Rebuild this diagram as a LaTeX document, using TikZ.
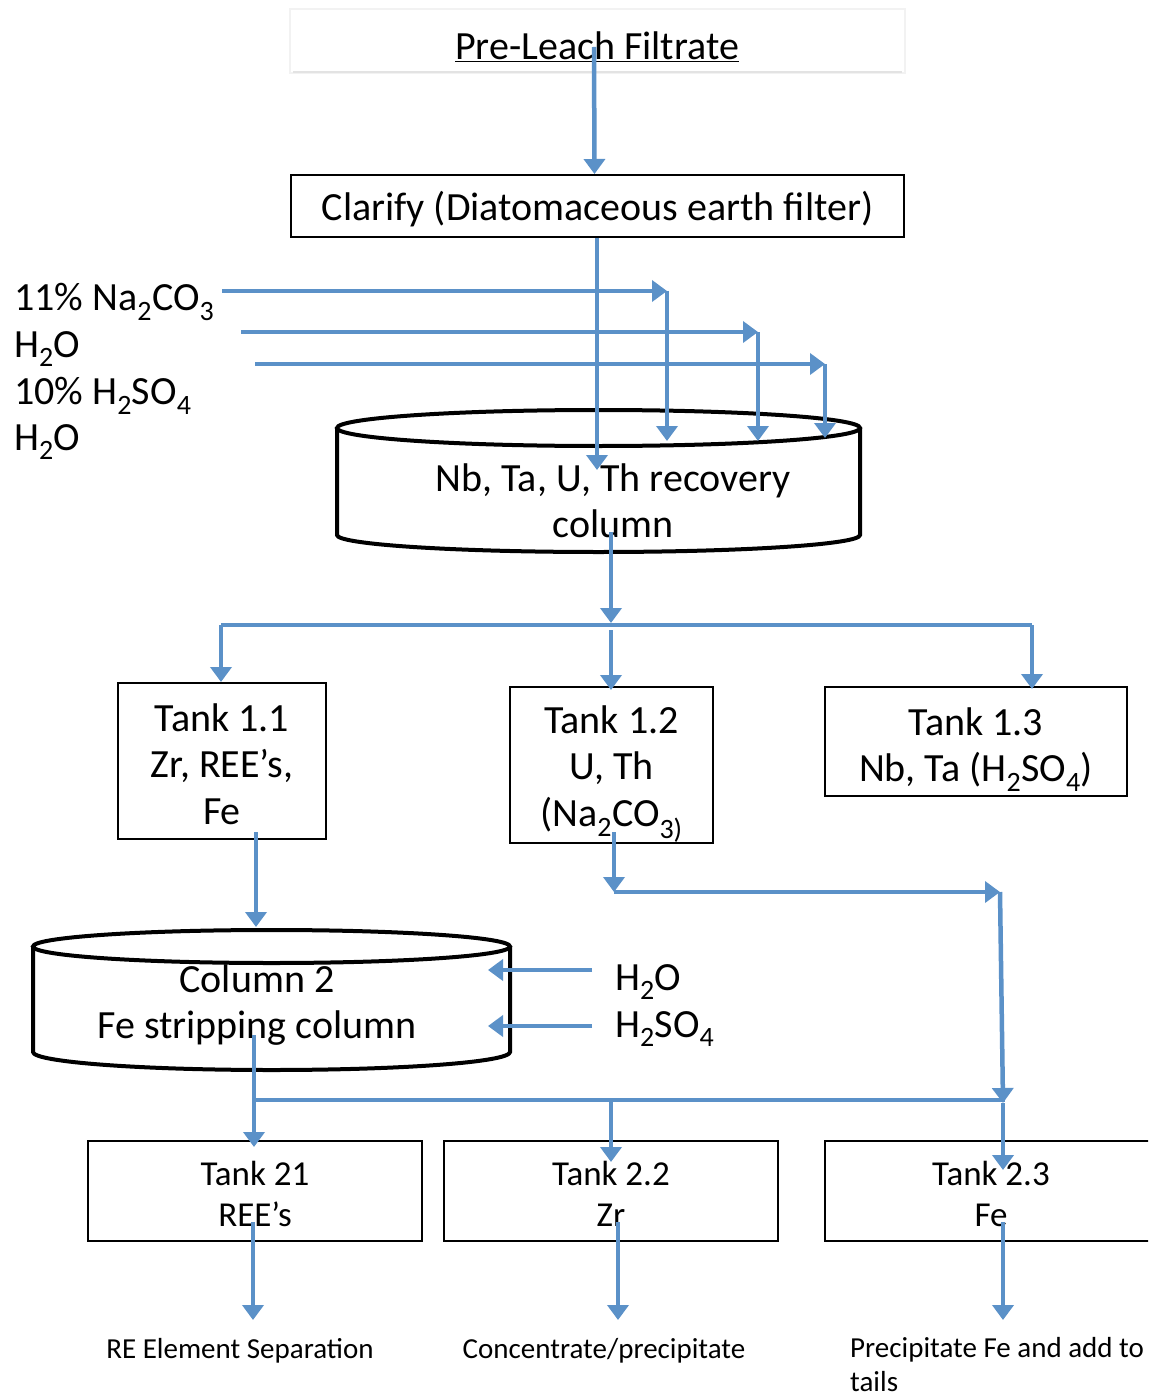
\documentclass[tikz,border=0pt]{standalone}
\usepackage{fontspec}
\setmainfont{Carlito}
\usetikzlibrary{arrows.meta, positioning, calc}
\definecolor{flowblue}{RGB}{91,145,200}
\newcommand{\bigtext}{\fontsize{40}{46.5}\selectfont}
\newcommand{\midtext}{\fontsize{35}{41}\selectfont}
\newcommand{\smalltext}{\fontsize{29}{34}\selectfont}

\begin{document}
\begin{tikzpicture}[x=1pt, y=-1pt, >={Triangle[width=21pt,length=15pt]},
  flow/.style={->, draw=flowblue, line width=4.5pt},
  flowline/.style={draw=flowblue, line width=4.5pt},
  tankbox/.style={draw, line width=2pt, inner sep=0pt, fill=white},
  colwall/.style={draw, line width=4pt, fill=white},
  txt/.style={inner sep=0pt, font=\bigtext, align=center}]
  \useasboundingbox (0,0) rectangle (1148,1396);
  \clip (0,0) rectangle (1148,1396);

  % Feed and clarifier
  \draw[gray!10, line width=1.5pt] (290,9) rectangle (905,73);
  \draw[gray!22, line width=1.5pt] (293,72) -- (902,72);
  \node[txt] (feed) at (597,47) {\underline{Pre-Leach Filtrate}};
  \node[tankbox, minimum width=613pt, minimum height=62pt,
    label={[txt, yshift=-3pt]center:{Clarify (Diatomaceous earth filter)}}] (clarify)
    at (597.5,206) {};

  % Column 1
  \draw[colwall] (337,428) -- (337,535)
    arc[start angle=180, end angle=0, x radius=261.5, y radius=17] -- (860,428);
  \draw[line width=4pt] (598.5,428) ellipse[x radius=261.5, y radius=18];
  \node[txt] (recov) at (613,501) {Nb, Ta, U, Th recovery\\column};

  % Reagents for column 1
  \node[txt, anchor=west] (soda) at (14,302) {11\% Na\textsubscript{2}CO\textsubscript{3}};
  \node[txt, anchor=west] (wash1) at (14,349) {H\textsubscript{2}O};
  \node[txt, anchor=west] (acid1) at (14,396) {10\% H\textsubscript{2}SO\textsubscript{4}};
  \node[txt, anchor=west] (wash2) at (14,442) {H\textsubscript{2}O};

  % First row of tanks
  \node[tankbox, minimum width=208pt, minimum height=156pt,
    label={[txt, yshift=-3pt]center:{Tank 1.1\\Zr, REE’s,\\Fe}}] (tank11)
    at (222,761) {};
  \node[tankbox, minimum width=203pt, minimum height=156pt,
    label={[txt, yshift=-9pt]center:{Tank 1.2\\U, Th\\(Na\textsubscript{2}CO\textsubscript{3)}}}] (tank12)
    at (611.5,765) {};
  \node[tankbox, minimum width=302pt, minimum height=109pt,
    label={[txt, yshift=-8pt]center:{Tank 1.3\\Nb, Ta (H\textsubscript{2}SO\textsubscript{4})}}] (tank13)
    at (976,741.5) {};

  % Column 2
  \draw[colwall] (33,946.5) -- (33,1052)
    arc[start angle=180, end angle=0, x radius=238.5, y radius=18] -- (510,946.5);
  \draw[line width=4pt] (271.5,946.5) ellipse[x radius=238.5, y radius=16.5];
  \node[txt] (strip) at (257,1005) {Column 2\\Fe stripping column};
  \node[txt, anchor=west] (wash3) at (615,982) {H\textsubscript{2}O};
  \node[txt, anchor=west] (acid2) at (615,1029) {H\textsubscript{2}SO\textsubscript{4}};

  % Second row of tanks
  \node[tankbox, minimum width=334pt, minimum height=100pt,
    label={[txt, font=\midtext, yshift=-3pt]center:{Tank 21\\REE’s}}] (tank21)
    at (255,1191) {};
  \node[tankbox, minimum width=334pt, minimum height=100pt,
    label={[txt, font=\midtext, yshift=-3pt]center:{Tank 2.2\\Zr}}] (tank22)
    at (611,1191) {};
  \node[tankbox, minimum width=332pt, minimum height=100pt,
    label={[txt, font=\midtext, yshift=-3pt]center:{Tank 2.3\\Fe}}] (tank23)
    at (991,1191) {};

  % Products
  \node[txt, font=\smalltext] (resep) at (240,1351) {RE Element Separation};
  \node[txt, font=\smalltext] (conc) at (604,1351) {Concentrate/precipitate};
  \node[txt, font=\smalltext, align=left, anchor=north west] (tails) at (850,1337)
    {Precipitate Fe and add to\\tails};

  % Free ends of the flow lines
  \coordinate (c1in) at (597,470);
  \coordinate (s1) at (222,291);  \coordinate (top1) at (667,441);
  \coordinate (s2) at (241,332);  \coordinate (top2) at (758,441);
  \coordinate (s3) at (255,364);  \coordinate (top3) at (825,438);
  \coordinate (c1out) at (611,532);
  \coordinate (split1) at (611,625);
  \coordinate (split1w) at (221,625);
  \coordinate (split1e) at (1032,625);
  \coordinate (t11out) at (256,832);  \coordinate (c2in) at (256,927);
  \coordinate (t12out) at (614,832);
  \coordinate (bend1) at (614,892);   \coordinate (bend2) at (1000,892);
  \coordinate (merge) at (1003,1103); \coordinate (t23in) at (1003,1170);
  \coordinate (w3s) at (592,970);     \coordinate (w3e) at (488,970);
  \coordinate (a2s) at (592,1026);    \coordinate (a2e) at (488,1026);
  \coordinate (c2out) at (254,1035);
  \coordinate (split2) at (254,1100); \coordinate (split2e) at (1005,1100);
  \coordinate (t21in) at (254,1147);
  \coordinate (t21out) at (253,1222); \coordinate (p1) at (253,1320);
  \coordinate (t22out) at (618,1222); \coordinate (p2) at (618,1320);
  \coordinate (t23out) at (1003,1222); \coordinate (p3) at (1003,1320);

  % Flow lines
  \draw[flow] ([xshift=-3pt]feed.center) -- ([xshift=-3pt]clarify.north);
  \draw[flow] (clarify.south -| c1in) -- (c1in);
  \draw[flow] (s1) -- (s1 -| top1);
  \draw[flow] (s1 -| top1) -- (top1);
  \draw[flow] (s2) -- (s2 -| top2);
  \draw[flow] (s2 -| top2) -- (top2);
  \draw[flow] (s3) -- (s3 -| top3);
  \draw[flow] (s3 -| top3) -- (top3);
  \draw[flow] (c1out) -- ([yshift=2pt]split1);
  \draw[flowline] (split1w) -- (split1e);
  \draw[flow] (split1w) -- (split1w |- tank11.north);
  \draw[flow] ([yshift=-5pt]split1) -- ([yshift=-4pt]split1 |- tank12.north);
  \draw[flow] (split1e) -- ([yshift=-3pt]split1e |- tank13.north);
  \draw[flow] (t11out) -- (c2in);
  \draw[flow] (t12out) -- (bend1);
  \draw[flow] (bend1) -- (bend2);
  \draw[flow] (bend2) -- (merge);
  \draw[flow] (merge) -- (t23in);
  \draw[flow] (w3s) -- (w3e);
  \draw[flow] (a2s) -- (a2e);
  \draw[flow] (c2out) -- (t21in);
  \draw[flowline] (split2) -- (split2e);
  \draw[flow] (split2 -| tank22) -- ([yshift=-22pt]tank22.north);
  \draw[flow] (t21out) -- (p1);
  \draw[flow] (t22out) -- (p2);
  \draw[flow] (t23out) -- (p3);
\end{tikzpicture}
\end{document}
